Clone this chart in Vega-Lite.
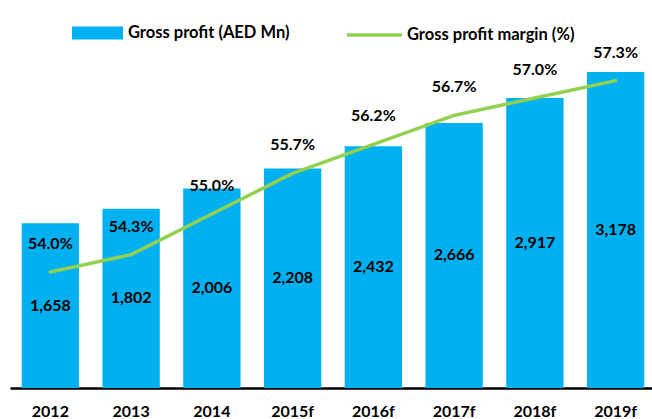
{
  "$schema": "https://vega.github.io/schema/vega-lite/v6.json",
  "width": 642,
  "height": 348,
  "autosize": {"type": "none"},
  "padding": {"left": 10, "top": 40, "right": 0, "bottom": 31},
  "config": {
    "font": "Lato",
    "view": {"stroke": null},
    "axis": {"grid": false}
  },
  "data": {
    "values": [
      {"year": "2012", "profit": 1658, "margin": 0.540},
      {"year": "2013", "profit": 1802, "margin": 0.543},
      {"year": "2014", "profit": 2006, "margin": 0.550},
      {"year": "2015f", "profit": 2208, "margin": 0.557},
      {"year": "2016f", "profit": 2432, "margin": 0.562},
      {"year": "2017f", "profit": 2666, "margin": 0.567},
      {"year": "2018f", "profit": 2917, "margin": 0.570},
      {"year": "2019f", "profit": 3178, "margin": 0.573}
    ]
  },
  "encoding": {
    "x": {
      "field": "year",
      "type": "nominal",
      "sort": null,
      "scale": {"range": [0, 646], "paddingInner": 0.29, "paddingOuter": 0.145},
      "axis": {
        "title": null,
        "labelAngle": 0,
        "ticks": false,
        "domainColor": "#000000",
        "domainWidth": 2.5,
        "labelColor": "#000000",
        "labelFont": "Lato",
        "labelFontWeight": "bold",
        "labelFontSize": 16,
        "labelPadding": 15
      }
    }
  },
  "layer": [
    {
      "mark": {"type": "bar", "color": "#00B0F0"},
      "encoding": {
        "y": {"field": "profit", "type": "quantitative", "scale": {"domain": [0, 3500], "nice": false}, "axis": null},
        "color": {
          "datum": "Gross profit (AED Mn)",
          "type": "nominal",
          "scale": {"range": ["#00B0F0"]},
          "legend": {
            "title": null,
            "orient": "none",
            "legendX": 62,
            "legendY": -32.5,
            "padding": 0,
            "symbolType": "M-1,-0.255H1V0.255H-1Z",
            "symbolSize": 2601,
            "symbolStrokeWidth": 0,
            "labelOffset": 5,
            "labelLimit": 300,
            "labelFont": "Lato",
            "labelFontWeight": "bold",
            "labelFontSize": 16.5,
            "labelColor": "#000000"
          }
        }
      }
    },
    {
      "mark": {"type": "text", "fontWeight": "bold", "fontSize": 16, "color": "#000000", "baseline": "middle"},
      "encoding": {
        "y": {"field": "profit", "type": "quantitative", "scale": {"domain": [0, 7000], "nice": false}, "axis": null},
        "text": {"field": "profit", "type": "quantitative", "format": ",.0f"}
      }
    },
    {
      "mark": {"type": "line", "strokeWidth": 3.5, "strokeCap": "round"},
      "encoding": {
        "y": {"field": "margin", "type": "quantitative", "scale": {"domain": [0.52, 0.58], "nice": false, "zero": false}, "axis": null},
        "stroke": {
          "datum": "Gross profit margin (%)",
          "type": "nominal",
          "scale": {"range": ["#92D050"]},
          "legend": {
            "title": null,
            "orient": "none",
            "legendX": 335,
            "legendY": -34.5,
            "padding": 0,
            "symbolType": "stroke",
            "symbolSize": 3025,
            "symbolStrokeWidth": 3.5,
            "labelOffset": 3,
            "labelLimit": 300,
            "labelFont": "Lato",
            "labelFontWeight": "bold",
            "labelFontSize": 16.5,
            "labelColor": "#000000"
          }
        }
      }
    },
    {
      "mark": {"type": "text", "fontWeight": "bold", "fontSize": 16, "color": "#000000", "baseline": "middle", "dy": -28},
      "encoding": {
        "y": {"field": "margin", "type": "quantitative", "scale": {"domain": [0.52, 0.58], "nice": false, "zero": false}, "axis": null},
        "text": {"field": "margin", "type": "quantitative", "format": ".1%"}
      }
    }
  ],
  "resolve": {"scale": {"y": "independent", "color": "independent"}}
}
